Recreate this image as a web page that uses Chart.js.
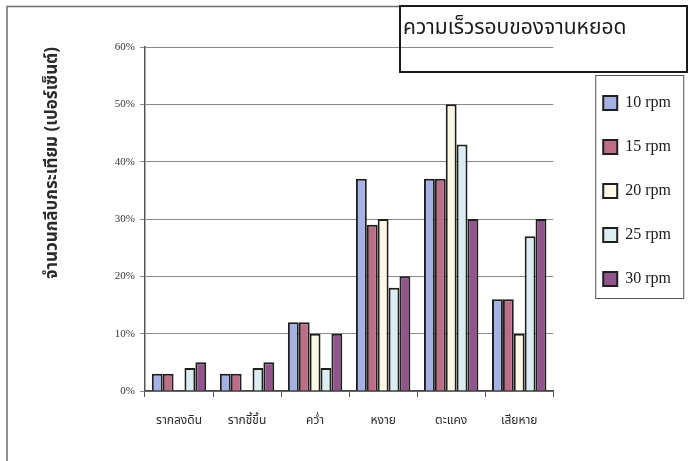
<!DOCTYPE html>
<html>
<head>
<meta charset="utf-8">
<script src="https://cdn.jsdelivr.net/npm/chart.js@4/dist/chart.umd.min.js"></script>
<style>
    html, body { margin: 0; padding: 0; background: #fff; }
    #myChart { display: block; }
</style>
</head>
<body>
<canvas id="myChart" width="690" height="461"></canvas>
<script>
'use strict';

// categories (x axis)
var categories = ['รากลงดิน', 'รากชี้ขึ้น', 'คว่ำ', 'หงาย', 'ตะแคง', 'เสียหาย'];

// percent of cloves for each disc speed
var rpm10 = [3, 3, 12, 37, 37, 16];
var rpm15 = [3, 3, 12, 29, 37, 16];
var rpm20 = [0, 0, 10, 30, 50, 10];
var rpm25 = [4, 4, 4, 18, 43, 27];
var rpm30 = [5, 5, 10, 20, 30, 30];

var seriesNames = ['10 rpm', '15 rpm', '20 rpm', '25 rpm', '30 rpm'];
var yTicks = [0, 10, 20, 30, 40, 50, 60];

var chartTitle = 'ความเร็วรอบของจานหยอด';
var yTitle = 'จำนวนกลีบกระเทียม (เปอร์เซ็นต์)';

var thaiFont = "'Noto Sans Thai', 'Loma', 'Garuda', 'Norasi', 'DejaVu Sans', sans-serif";
var serifFont = "'Liberation Serif', 'DejaVu Serif', serif";

var colours = ['#a4b1e4', '#bd6e86', '#fbf8e3', '#daedf1', '#92558b'];
var allData = [rpm10, rpm15, rpm20, rpm25, rpm30];

var datasets = [];
for (var i = 0; i < seriesNames.length; i++) {
    datasets.push({
        label: seriesNames[i],
        data: allData[i],
        backgroundColor: colours[i],
        borderColor: '#1e1e1e',
        borderWidth: 2,
        borderSkipped: 'bottom',
        categoryPercentage: 0.8,
        barPercentage: 1.0
    });
}

// frame, title box and the box round the legend
var decorations = {
    id: 'decorations',
    beforeDraw: function (chart) {
        var ctx = chart.ctx;
        ctx.save();
        ctx.fillStyle = '#ffffff';
        ctx.fillRect(0, 0, chart.width, chart.height);
        ctx.strokeStyle = '#6e6e6e';
        ctx.lineWidth = 1.5;
        ctx.beginPath();
        ctx.moveTo(7, chart.height);
        ctx.lineTo(7, 6.5);
        ctx.lineTo(400, 6.5);
        ctx.stroke();
        ctx.restore();
    },
    afterDraw: function (chart) {
        var ctx = chart.ctx;
        var legend = chart.legend;
        ctx.save();

        // legend border
        ctx.strokeStyle = '#555';
        ctx.lineWidth = 1;
        ctx.strokeRect(legend.left + 20.5, legend.top + 28.5, 88, 223);

        // title box
        ctx.strokeStyle = '#1a1a1a';
        ctx.lineWidth = 2;
        ctx.strokeRect(400, 6, 287, 66);
        ctx.fillStyle = '#1a1a1a';
        ctx.font = '21px ' + thaiFont;
        ctx.textBaseline = 'middle';
        ctx.textAlign = 'left';
        ctx.fillText(chartTitle, 403, 30);
        ctx.restore();
    }
};

var chart = new Chart(document.getElementById('myChart'), {
    type: 'bar',
    data: {
        labels: categories,
        datasets: datasets
    },
    options: {
        responsive: false,
        animation: false,
        devicePixelRatio: 1,
        layout: {
            padding: { top: 47, right: 9, bottom: 0, left: 0 }
        },
        plugins: {
            title: { display: false },
            tooltip: { enabled: false },
            legend: {
                position: 'right',
                align: 'start',
                title: {
                    display: true,
                    text: '',
                    font: { size: 10 },
                    padding: { top: 4, bottom: 4 }
                },
                labels: {
                    boxWidth: 14,
                    boxHeight: 14,
                    padding: 28,
                    color: '#1a1a1a',
                    font: { family: serifFont, size: 16 }
                }
            }
        },
        scales: {
            x: {
                grid: {
                    display: true,
                    drawOnChartArea: false,
                    drawTicks: true,
                    tickLength: 6,
                    color: '#555'
                },
                border: { display: true, color: '#444', width: 1.5 },
                ticks: {
                    padding: 17,
                    color: '#2a2a2a',
                    font: { family: thaiFont, size: 12 },
                    maxRotation: 0
                },
                afterFit: function (scale) {
                    scale.height = 70;
                }
            },
            y: {
                min: 0,
                max: 60,
                afterBuildTicks: function (scale) {
                    scale.ticks = yTicks.map(function (v) { return { value: v }; });
                },
                grid: {
                    color: '#8a8a8a',
                    lineWidth: 1,
                    drawTicks: true,
                    tickLength: 5
                },
                border: { display: true, color: '#555', width: 1.5 },
                ticks: {
                    padding: 5,
                    color: '#333',
                    font: { family: serifFont, size: 11 },
                    callback: function (value) {
                        return value + '%';
                    }
                },
                title: {
                    display: true,
                    text: yTitle,
                    align: 'end',
                    color: '#2a2a2a',
                    font: { family: thaiFont, size: 17, weight: 'bold' },
                    padding: { top: 43, bottom: 0 }
                },
                afterFit: function (scale) {
                    scale.width = 145;
                }
            },
            // spacer between plot and legend
            gap: {
                type: 'linear',
                position: 'right',
                display: true,
                grid: { display: false },
                border: { display: false },
                ticks: { display: false },
                afterFit: function (scale) {
                    scale.width = 22;
                }
            }
        }
    },
    plugins: [decorations]
});
</script>
</body>
</html>
